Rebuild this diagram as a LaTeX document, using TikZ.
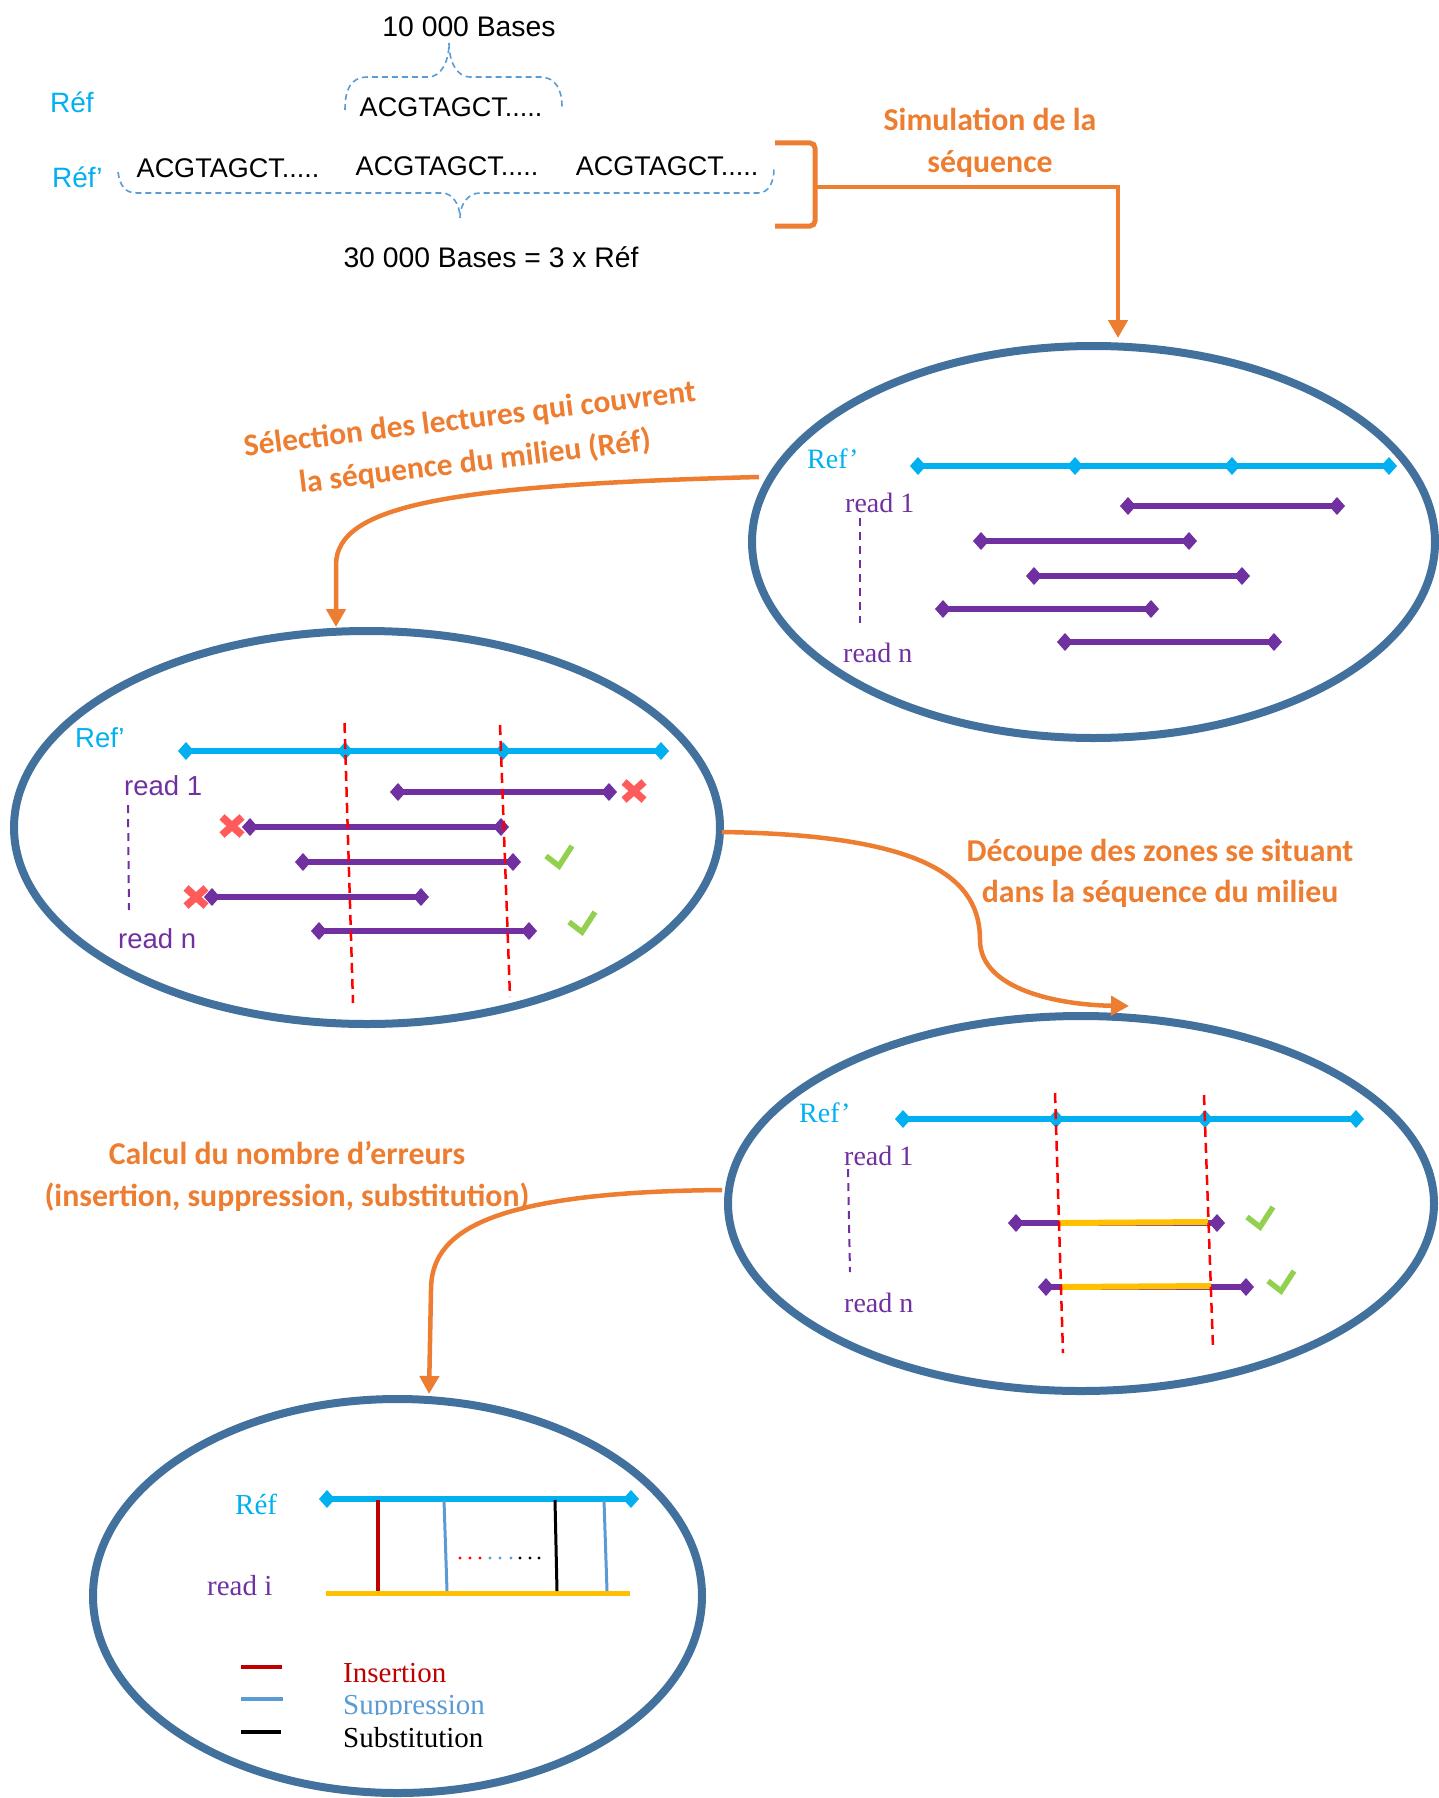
\documentclass[tikz,border=0pt]{standalone}
\usepackage{fontspec}
\setmainfont{Liberation Serif}
\setsansfont{Liberation Sans}
\newfontfamily\orangefont{Carlito}
\usetikzlibrary{shapes.geometric,arrows.meta}

\definecolor{ellblue}{HTML}{41719C}
\definecolor{orangeA}{HTML}{ED7D31}
\definecolor{cyanA}{HTML}{00B0F0}
\definecolor{purpleR}{HTML}{7030A0}
\definecolor{yellowR}{HTML}{FFC000}
\definecolor{xred}{HTML}{FF5B5B}
\definecolor{checkgreen}{HTML}{92D050}
\definecolor{braceblue}{HTML}{5B9BD5}
\definecolor{insred}{HTML}{C00000}

% read segment with diamond ends: colour, x1, x2, y
\newcommand\rdline[4]{%
  \draw[#1, line width=6pt] (#2,#4) -- (#3,#4);
  \pic[#1] at (#2,#4) {dmd};
  \pic[#1] at (#3,#4) {dmd};}

\begin{document}
\begin{tikzpicture}[x=1pt,y=-1pt,
  ell/.style={ellipse, draw=ellblue, line width=8pt, inner sep=0pt},
  flow/.style={draw=orangeA, line width=4.5pt, -{Triangle[length=18pt,width=19pt]}},
  olabel/.style={text=orangeA, font=\orangefont\bfseries\fontsize{31.8}{42}\selectfont, anchor=base, inner sep=0pt},
  toptext/.style={font=\sffamily\fontsize{28.3}{32}\selectfont, anchor=base, inner sep=0pt},
  seqtext/.style={font=\sffamily\fontsize{27}{32}\selectfont, anchor=base, inner sep=0pt},
  serlab/.style={font=\fontsize{28}{32}\selectfont, anchor=base west, inner sep=0pt},
  sanlab/.style={font=\sffamily\fontsize{27.5}{32}\selectfont, anchor=base west, inner sep=0pt},
  leglab/.style={font=\fontsize{29}{32}\selectfont, anchor=base west, inner sep=0pt},
  brace/.style={draw=braceblue, line width=1.6pt, dash pattern=on 6pt off 4pt},
  cutline/.style={draw=red, line width=2.5pt, dash pattern=on 10pt off 6pt},
  vdash/.style={draw=purpleR, line width=2pt, dash pattern=on 8pt off 6pt},
  dmd/.pic={\fill (-8,0) -- (0,-9) -- (8,0) -- (0,9) -- cycle;},
  xm/.pic={\draw[line width=7.5pt] (-10,-9) -- (10,9) (-10,9) -- (10,-9);},
  ck/.pic={\draw[line width=5.5pt] (-13,-3) -- (0,7) -- (13,-13);}
]
\useasboundingbox (0,0) rectangle (1439,1798);

% ---------------- sequences ----------------
\node[toptext] (tenk) at (469,37) {10 000 Bases};
\node[sanlab, text=cyanA, font=\sffamily\fontsize{28}{32}\selectfont] (lref) at (50,113) {Réf};
\node[seqtext] (seqref) at (451,117) {ACGTAGCT.....};
\node[sanlab, text=cyanA, font=\sffamily\fontsize{28}{32}\selectfont] (lrefp) at (52,188) {Réf’};
\node[seqtext] (seqa) at (228,178) {ACGTAGCT.....};
\node[seqtext] (seqb) at (447,176) {ACGTAGCT.....};
\node[seqtext] (seqc) at (667,176) {ACGTAGCT.....};
\node[toptext] (thirtyk) at (491,267) {30 000 Bases = 3 x Réf};

% braces
\draw[brace] (345,110) .. controls (345,90) and (350,77) .. (368,77) -- (428,77)
  .. controls (441,77) and (449,62) .. (449,43)
  .. controls (449,62) and (457,77) .. (470,77) -- (540,77)
  .. controls (556,77) and (562,90) .. (562,107);
\draw[brace] (118,172) .. controls (120,186) and (125,193) .. (137,193) -- (442,193)
  .. controls (452,193) and (460,204) .. (460,218)
  .. controls (460,204) and (468,193) .. (480,193) -- (758,193)
  .. controls (769,193) and (774,182) .. (774,168);

% orange bracket
\draw[orangeA, line width=5pt, rounded corners=5pt] (775,143) -- (815,143) -- (815,226) -- (775,226);
\coordinate (brk) at (815,187);

\node[olabel] (lsimA) at (990,131) {Simulation de la};
\node[olabel] (lsimB) at (990,173) {séquence};

% ---------------- ellipses ----------------
\node[ell, minimum width=683pt, minimum height=392pt] (e1) at (1093.5,542) {};
\node[ell, minimum width=706pt, minimum height=393pt] (e2) at (367,827.5) {};
\node[ell, minimum width=706pt, minimum height=375pt] (e3) at (1081,1203.5) {};
\node[ell, minimum width=609pt, minimum height=394pt] (e4) at (397.5,1596) {};

% ---------------- connectors ----------------
\coordinate (e1in) at (1118,338);
\draw[flow] (brk) -- (1118,187) -- (e1in);

\coordinate (e1out) at (759,477);
\coordinate (e2in) at (336,627);
\draw[flow] (e1out) .. controls (450,485) and (336,505) .. (336,565) -- (e2in);

\coordinate (e2out) at (722,832);
\coordinate (e3in) at (1129,1006);
\draw[flow] (e2out) .. controls (930,835) and (980,880) .. (980,940)
  .. controls (980,990) and (1060,1005) .. (e3in);

\coordinate (e3out) at (722,1190);
\coordinate (e4in) at (429,1394);
\draw[flow] (e3out) .. controls (480,1192) and (431,1235) .. (431,1290) -- (e4in);

\node[olabel, rotate=7, align=center, anchor=center,
      font=\orangefont\bfseries\fontsize{31.5}{43}\selectfont] (lsel) at (472.5,441.5)
      {Sélection des lectures qui couvrent\\la séquence du milieu (Réf)};
\node[olabel] (ldecA) at (1160,861) {Découpe des zones se situant};
\node[olabel] (ldecB) at (1160,902) {dans la séquence du milieu};
\node[olabel] (lcalA) at (287,1164) {Calcul du nombre d’erreurs};
\node[olabel] (lcalB) at (287,1206) {(insertion, suppression, substitution)};

% ---------------- ellipse 1 : simulated reads ----------------
\node[serlab, text=cyanA] (r1ref) at (807,468) {Ref’};
\node[serlab, text=purpleR] (r1a) at (845,512) {read 1};
\node[serlab, text=purpleR] (r1n) at (843,662) {read n};
\draw[vdash] (860,518) -- (860,623);
\draw[cyanA, line width=6.5pt] (918,466) -- (1389,466);
\foreach \x in {918,1075,1232,1389} \pic[cyanA] at (\x,466) {dmd};
\rdline{purpleR}{1128}{1337}{506}
\rdline{purpleR}{981}{1189}{541}
\rdline{purpleR}{1034}{1242}{576}
\rdline{purpleR}{943}{1151}{609}
\rdline{purpleR}{1065}{1274}{642}

% ---------------- ellipse 2 : selection ----------------
\node[sanlab, text=cyanA] (r2ref) at (75,747) {Ref’};
\node[sanlab, text=purpleR] (r2a) at (124,795) {read 1};
\node[sanlab, text=purpleR] (r2n) at (118,948) {read n};
\draw[vdash] (128,805) -- (129,910);
\draw[cyanA, line width=6.5pt] (186,751) -- (661,751);
\foreach \x in {186,345,503,661} \pic[cyanA] at (\x,751) {dmd};
\rdline{purpleR}{398}{609}{792}
\rdline{purpleR}{250}{501}{827}
\rdline{purpleR}{303}{513}{862}
\rdline{purpleR}{212}{421}{897}
\rdline{purpleR}{319}{529}{931}
\draw[cutline] (344.5,723) -- (353,1003);
\draw[cutline] (500,725) -- (510,997);
\pic[xred] at (634,791) {xm};
\pic[xred] at (232,826) {xm};
\pic[xred] at (196,897) {xm};
\pic[checkgreen] at (559,859) {ck};
\pic[checkgreen] at (582,925) {ck};

% ---------------- ellipse 3 : trimming ----------------
\node[serlab, text=cyanA] (r3ref) at (799,1122) {Ref’};
\node[serlab, text=purpleR] (r3a) at (844,1165) {read 1};
\node[serlab, text=purpleR] (r3n) at (844,1312) {read n};
\draw[vdash] (848,1169) -- (850,1272);
\draw[cyanA, line width=6.5pt] (903,1119) -- (1356,1119);
\foreach \x in {903,1056,1205,1356} \pic[cyanA] at (\x,1119) {dmd};
\rdline{purpleR}{1016}{1217}{1223}
\draw[yellowR, line width=6pt] (1059,1223) -- (1208,1222);
\rdline{purpleR}{1046}{1246}{1287}
\draw[yellowR, line width=6pt] (1062,1287) -- (1211,1286);
\draw[cutline] (1055,1093) -- (1063,1353);
\draw[cutline] (1204,1095) -- (1213,1348);
\pic[checkgreen] at (1260,1220) {ck};
\pic[checkgreen] at (1281,1284) {ck};

% ---------------- ellipse 4 : error counting ----------------
\node[leglab, text=cyanA] (r4ref) at (235,1514) {Réf};
\node[leglab, text=purpleR] (r4read) at (207,1595) {read i};
\draw[cyanA, line width=6pt] (327,1499) -- (631,1499);
\pic[cyanA] at (327,1499) {dmd};
\pic[cyanA] at (631,1499) {dmd};
\draw[yellowR, line width=5pt] (326,1593) -- (630,1593);
\draw[insred, line width=3.5pt] (378,1500) -- (378,1591);
\draw[braceblue, line width=3pt] (444,1500) -- (447,1591);
\draw[black, line width=3pt] (555,1500) -- (557,1591);
\draw[braceblue, line width=3pt] (604,1500) -- (607,1591);
\foreach \x in {460,470,480} \fill[red] (\x,1558) circle (1.6);
\foreach \x in {490,500,511} \fill[braceblue] (\x,1558) circle (1.6);
\foreach \x in {520,530,539} \fill[black] (\x,1558) circle (1.6);

\draw[insred, line width=4pt] (241,1667) -- (282,1667);
\draw[braceblue, line width=4pt] (241,1699) -- (283,1699);
\draw[black, line width=4pt] (241,1732) -- (281,1732);
\node[leglab, text=insred] (lins) at (343,1682) {Insertion};
\begin{scope}
  \clip (330,1680) rectangle (520,1714);
  \node[leglab, text=braceblue] (lsup) at (343,1714) {Suppression};
\end{scope}
\node[leglab, text=black] (lsub) at (343,1747) {Substitution};

\end{tikzpicture}
\end{document}
